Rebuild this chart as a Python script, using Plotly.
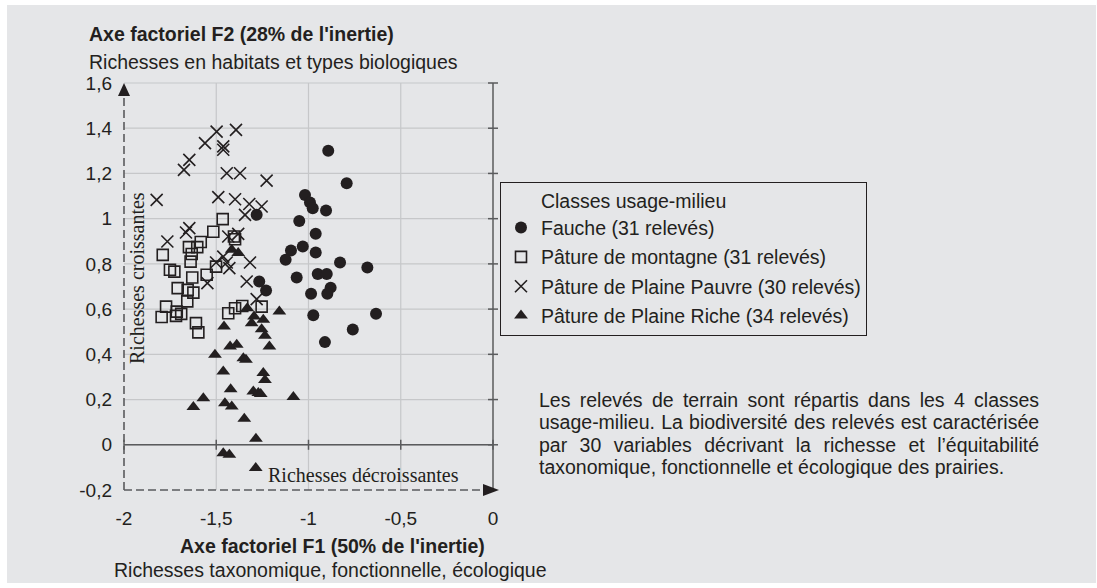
import plotly.graph_objects as go

# ---------------- data ----------------
fauche_x = [-1.019, -0.893, -0.793, -0.992, -0.977, -0.905, -1.281, -1.05, -0.961, -1.095,
            -1.031, -1.124, -0.961, -0.829, -0.681, -1.064, -0.95, -0.901, -0.88, -0.898,
            -0.986, -0.974, -0.634, -0.76, -0.911, -1.267, -1.230]
fauche_y = [1.105, 1.30, 1.157, 1.071, 1.046, 1.036, 1.017, 0.99, 0.933, 0.859,
            0.877, 0.818, 0.85, 0.806, 0.784, 0.74, 0.755, 0.755, 0.695, 0.668,
            0.668, 0.573, 0.579, 0.51, 0.454, 0.722, 0.682]

montagne_x = [-1.465, -1.516, -1.584, -1.648, -1.603, -1.633, -1.79, -1.639, -1.404, -1.398,
              -1.751, -1.727, -1.552, -1.501, -1.63, -1.709, -1.655, -1.624, -1.657, -1.772,
              -1.714, -1.69, -1.718, -1.796, -1.61, -1.597, -1.435, -1.398, -1.359, -1.254]
montagne_y = [0.998, 0.942, 0.897, 0.874, 0.874, 0.844, 0.84, 0.81, 0.921, 0.909,
              0.774, 0.766, 0.752, 0.788, 0.74, 0.693, 0.685, 0.673, 0.634, 0.611,
              0.589, 0.579, 0.57, 0.565, 0.538, 0.497, 0.582, 0.604, 0.614, 0.611]

pauvre_x = [-1.498, -1.393, -1.561, -1.462, -1.462, -1.646, -1.675, -1.443, -1.371, -1.227,
            -1.823, -1.489, -1.398, -1.321, -1.254, -1.344, -1.646, -1.664, -1.765, -1.435,
            -1.381, -1.462, -1.501, -1.443, -1.429, -1.317, -1.548, -1.335, -1.281]
pauvre_y = [1.385, 1.393, 1.334, 1.32, 1.305, 1.26, 1.216, 1.201, 1.201, 1.168,
            1.083, 1.095, 1.086, 1.065, 1.054, 1.017, 0.958, 0.939, 0.899, 0.921,
            0.933, 0.832, 0.806, 0.806, 0.781, 0.806, 0.715, 0.722, 0.644]

riche_x = [-1.416, -1.381, -1.458, -1.332, -1.295, -1.308, -1.245, -1.254, -1.236, -1.158,
           -1.425, -1.389, -1.212, -1.507, -1.353, -1.339, -1.462, -1.245, -1.236, -1.422,
           -1.299, -1.272, -1.259, -1.082, -1.57, -1.624, -1.453, -1.416, -1.348, -1.285,
           -1.462, -1.429, -1.286]
riche_y = [0.862, 0.848, 0.523, 0.604, 0.567, 0.538, 0.553, 0.511, 0.482, 0.589,
           0.435, 0.442, 0.435, 0.398, 0.383, 0.376, 0.324, 0.317, 0.287, 0.246,
           0.236, 0.229, 0.225, 0.211, 0.206, 0.167, 0.184, 0.169, 0.115, 0.027,
           -0.037, -0.044, -0.103]

series_names = ["Fauche (31 relevés)", "Pâture de montagne (31 relevés)",
                "Pâture de Plaine Pauvre (30 relevés)", "Pâture de Plaine Riche (34 relevés)"]

x_ticks = [-2, -1.5, -1, -0.5, 0]
x_ticklabels = ["-2", "-1,5", "-1", "-0,5", "0"]
y_ticks = [-0.2, 0, 0.2, 0.4, 0.6, 0.8, 1.0, 1.2, 1.4, 1.6]
y_ticklabels = ["-0,2", "0", "0,2", "0,4", "0,6", "0,8", "1", "1,2", "1,4", "1,6"]

note_lines = ["Les relevés de terrain sont répartis dans les 4 classes",
              "usage-milieu. La biodiversité des relevés est caractérisée",
              "par 30 variables décrivant la richesse et l’équitabilité",
              "taxonomique, fonctionnelle et écologique des prairies."]

# ---------------- layout geometry ----------------
W, H = 1097, 588
XMIN, XMAX = x_ticks[0], x_ticks[-1]
YMIN, YMAX = y_ticks[0], y_ticks[-1]
PX_XMIN, PX_XMAX = 124, 493      # pixel positions of x=-2 and x=0
PX_YMIN, PX_YMAX = 490, 83       # pixel positions of y=-0.2 and y=1.6
PAD = 9                          # pixel padding around the frame
sx = (PX_XMAX - PX_XMIN) / (XMAX - XMIN)
sy = (PX_YMIN - PX_YMAX) / (YMAX - YMIN)
xr = [XMIN - PAD / sx, XMAX + PAD / sx]
yr = [YMIN - PAD / sy, YMAX + PAD / sy]
ML, MR = PX_XMIN - PAD, W - (PX_XMAX + PAD)
MT, MB = PX_YMAX - PAD, H - (PX_YMIN + PAD)
PL, PR, PT, PB = ML, W - MR, MT, H - MB


def paper_x(px):
    return (px - PL) / (PR - PL)


def paper_y(py):
    return (PB - py) / (PB - PT)


def data_y(py):
    return YMIN + (PX_YMIN - py) / sy


def data_x(px):
    return XMIN + (px - PX_XMIN) / sx


BG = "#e5e6e8"
INK = "#231f20"
AXC = "#5a5b5d"
GRID = "#c6c7c9"
SANS = "Liberation Sans, Arial, sans-serif"
SERIF = "Liberation Serif, Times New Roman, serif"
FS = 19.5

# Arial / Liberation Sans advance widths (per 1000 em) for justified paragraph
_W = {c: 556 for c in "abdeghnopqu0123456789éèêâàô"}
_W.update({"c": 500, "f": 278, "i": 222, "j": 222, "k": 500, "l": 222, "m": 833,
           "r": 333, "s": 500, "t": 278, "v": 500, "w": 722, "x": 500, "y": 500,
           "z": 500, " ": 278, ".": 278, ",": 278, "-": 333, "’": 222, "L": 556})


def text_width(s, size):
    return sum(_W.get(ch, 556) for ch in s) * size / 1000.0


NOTE_W = 500  # justified paragraph width (px)

fig = go.Figure()

marker_styles = [
    dict(symbol="circle", size=12, color=INK, line=dict(width=0)),
    dict(symbol="square-open", size=11, color=INK, line=dict(width=1.6)),
    dict(symbol="x-thin-open", size=12, color=INK, line=dict(width=1.6)),
    dict(symbol="triangle-up", size=12, color=INK, line=dict(width=0)),
]
for i, (xs, ys) in enumerate([(fauche_x, fauche_y), (montagne_x, montagne_y),
                              (pauvre_x, pauvre_y), (riche_x, riche_y)]):
    fig.add_trace(go.Scatter(x=xs, y=ys, mode="markers", name=series_names[i],
                             legendgroup=f"g{i}", marker=marker_styles[i],
                             hoverinfo="x+y+name"))

shapes = []
# panel background
shapes.append(dict(type="rect", xref="paper", yref="paper", layer="below",
                   x0=paper_x(7), x1=paper_x(1096), y0=paper_y(583), y1=paper_y(5),
                   fillcolor=BG, line=dict(width=0)))
# gridlines
for xv in x_ticks[1:-1]:
    shapes.append(dict(type="line", xref="x", yref="y", layer="below",
                       x0=xv, x1=xv, y0=YMIN, y1=YMAX, line=dict(color=GRID, width=1.2)))
for yv in y_ticks[1:]:
    shapes.append(dict(type="line", xref="x", yref="y", layer="below",
                       x0=XMIN, x1=XMAX, y0=yv, y1=yv, line=dict(color=GRID, width=1.2)))
# solid axes: y=0 and x=0
shapes.append(dict(type="line", xref="x", yref="y", layer="below",
                   x0=XMIN, x1=XMAX, y0=0, y1=0, line=dict(color=AXC, width=1.5)))
shapes.append(dict(type="line", xref="x", yref="y", layer="below",
                   x0=XMAX, x1=XMAX, y0=YMIN, y1=YMAX, line=dict(color=AXC, width=1.5)))
for xv in x_ticks:
    shapes.append(dict(type="line", xref="x", yref="y", ysizemode="pixel", yanchor=0,
                       layer="below", x0=xv, x1=xv, y0=-5, y1=5,
                       line=dict(color=AXC, width=1.5)))
for yv in y_ticks[1:]:
    shapes.append(dict(type="line", xref="x", yref="y", xsizemode="pixel", xanchor=XMAX,
                       layer="below", x0=-5, x1=5, y0=yv, y1=yv,
                       line=dict(color=AXC, width=1.5)))
# dashed arrows
shapes.append(dict(type="line", xref="x", yref="y", layer="below",
                   x0=XMIN, x1=XMIN, y0=YMIN, y1=YMAX - 10 / sy,
                   line=dict(color=AXC, width=1.6, dash="8px,4px")))
shapes.append(dict(type="line", xref="x", yref="y", layer="below",
                   x0=XMIN, x1=XMAX - 8 / sx, y0=YMIN, y1=YMIN,
                   line=dict(color=AXC, width=1.6, dash="8px,4px")))
shapes.append(dict(type="path", xref="x", yref="y", xsizemode="pixel", ysizemode="pixel",
                   xanchor=XMIN, yanchor=YMAX, path="M -6 -13 L 6 -13 L 0 0 Z",
                   fillcolor=INK, line=dict(width=0)))
shapes.append(dict(type="path", xref="x", yref="y", xsizemode="pixel", ysizemode="pixel",
                   xanchor=XMAX, yanchor=YMIN, path="M -10 -6 L -10 6 L 6 0 Z",
                   fillcolor=INK, line=dict(width=0)))

annotations = [
    dict(xref="paper", yref="paper", x=paper_x(87), y=paper_y(34), xanchor="left",
         yanchor="middle", showarrow=False,
         text="<b>Axe factoriel F2 (28% de l'inertie)</b>",
         font=dict(family=SANS, size=FS, color=INK)),
    dict(xref="paper", yref="paper", x=paper_x(87), y=paper_y(62), xanchor="left",
         yanchor="middle", showarrow=False,
         text="Richesses en habitats et types biologiques",
         font=dict(family=SANS, size=FS, color=INK)),
    dict(xref="paper", yref="paper", x=paper_x(332), y=paper_y(546), xanchor="center",
         yanchor="middle", showarrow=False,
         text="<b>Axe factoriel F1 (50% de l'inertie)</b>",
         font=dict(family=SANS, size=FS, color=INK)),
    dict(xref="paper", yref="paper", x=paper_x(112), y=paper_y(570), xanchor="left",
         yanchor="middle", showarrow=False,
         text="Richesses taxonomique, fonctionnelle, écologique",
         font=dict(family=SANS, size=FS, color=INK)),
    dict(xref="x", yref="y", x=XMIN, xshift=13, y=data_y(278), textangle=-90,
         xanchor="center", yanchor="middle", showarrow=False,
         text="Richesses croissantes", font=dict(family=SERIF, size=20, color=INK)),
    dict(xref="x", yref="y", x=data_x(363.5), y=data_y(475), xanchor="center",
         yanchor="middle", showarrow=False,
         text="Richesses décroissantes", font=dict(family=SERIF, size=20, color=INK)),
]
for k, line in enumerate(note_lines):
    gaps = line.count(" ")
    if k < len(note_lines) - 1 and gaps:
        extra = max(0.0, (NOTE_W - text_width(line, FS)) / gaps)
        txt = f"<span style='word-spacing:{extra:.2f}px'>{line}</span>"
    else:
        txt = line
    annotations.append(dict(xref="paper", yref="paper", x=paper_x(537),
                            y=paper_y(400 + 22.4 * k), xanchor="left", yanchor="middle",
                            showarrow=False, text=txt,
                            font=dict(family=SANS, size=FS, color=INK)))

fig.update_layout(
    width=W, height=H, autosize=False,
    margin=dict(l=ML, r=MR, t=MT, b=MB, pad=0),
    paper_bgcolor="white", plot_bgcolor=BG,
    font=dict(family=SANS, size=FS, color=INK),
    xaxis=dict(range=xr, tickvals=x_ticks, ticktext=x_ticklabels, showgrid=False,
               zeroline=False, showline=False, ticks="", ticklabelstandoff=6,
               tickfont=dict(family=SANS, size=19, color=INK), fixedrange=True),
    yaxis=dict(range=yr, tickvals=y_ticks, ticktext=y_ticklabels, showgrid=False,
               zeroline=False, showline=False, ticks="", ticklabelstandoff=2,
               tickfont=dict(family=SANS, size=19, color=INK), fixedrange=True),
    showlegend=True,
    legend=dict(x=paper_x(500), y=paper_y(182), xanchor="left", yanchor="top",
                bgcolor="rgba(0,0,0,0)", bordercolor=INK, borderwidth=1,
                font=dict(family=SANS, size=FS, color=INK),
                title=dict(text="\u00a0" * 7 + "Classes usage-milieu",
                           font=dict(family=SANS, size=FS, color=INK)),
                tracegroupgap=1, itemsizing="trace"),
    shapes=shapes, annotations=annotations,
)

fig.write_html(
    "out.html",
    config={"displayModeBar": False, "staticPlot": False},
    post_script="document.body.style.margin='0';document.body.style.padding='0';"
                "document.documentElement.style.overflow='hidden';",
)
